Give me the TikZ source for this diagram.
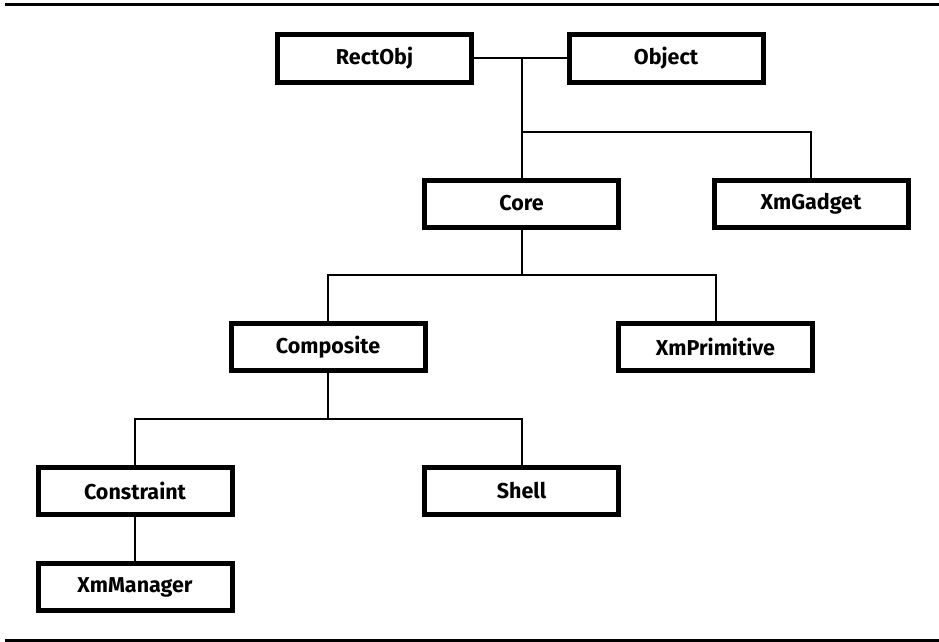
\documentclass[tikz,border=0pt]{standalone}
\usepackage{fontspec}
\setmainfont{Fira Sans}
\begin{document}
\begin{tikzpicture}[x=1pt,y=-1pt,
  classbox/.style={draw=black, line width=5pt, fill=white, inner sep=0pt,
    minimum width=194pt, minimum height=47pt,
    font=\fontsize{21.5}{24}\selectfont\bfseries},
  link/.style={draw=black, line width=2pt},
  rule/.style={draw=black, line width=3pt}]
  \useasboundingbox (0,0) rectangle (939,642);

  % framing rules
  \coordinate (tl) at (5,5);
  \coordinate (tr) at (939,5);
  \coordinate (bl) at (5,640);
  \coordinate (br) at (939,640);
  \draw[rule] (tl) -- (tr);
  \draw[rule] (bl) -- (br);

  % class nodes
  \node[classbox] (rectobj)   at (374.5,58.5) {RectObj};
  \node[classbox] (object)    at (666,58.5)   {Object};
  \node[classbox] (core)      at (521.5,203.5){Core};
  \node[classbox] (gadget)    at (811,203.5)  {XmGadget};
  \node[classbox] (composite) at (328,347)    {Composite};
  \node[classbox] (primitive) at (715.5,347)  {XmPrimitive};
  \node[classbox] (constraint)at (135,490.5)  {Constraint};
  \node[classbox] (shell)     at (521.5,490.5){Shell};
  \node[classbox] (manager)   at (135,587)    {XmManager};

  % junction points of the tree
  \coordinate (j0) at (core.north |- rectobj.east);
  \coordinate (j1) at (core.north |- 0,132);
  \coordinate (j2) at (core.south |- 0,275);
  \coordinate (j3) at (composite.south |- 0,419);

  % connectors
  \draw[link] (rectobj.east) -- (object.west);
  \draw[link] (j0) -- (core.north);
  \draw[link] (j1) -| (gadget.north);
  \draw[link] (core.south) -- (j2);
  \draw[link] (composite.north) |- (j2) -| (primitive.north);
  \draw[link] (composite.south) -- (j3);
  \draw[link] (constraint.north) |- (j3) -| (shell.north);
  \draw[link] (constraint.south) -- (manager.north);
\end{tikzpicture}
\end{document}
